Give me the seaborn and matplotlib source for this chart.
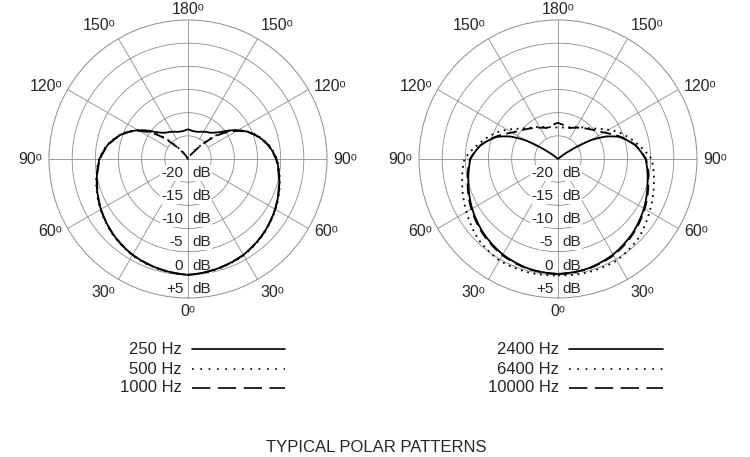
import numpy as np
import pandas as pd
import seaborn as sns
import matplotlib.pyplot as plt
from matplotlib.lines import Line2D

# ====== Data (dB relative to on-axis, angle measured from front, 0..180) ======
ANGLES = [0, 15, 30, 45, 60, 75, 90, 100, 110, 115, 120, 125, 130, 135, 140, 150, 160, 170, 180]

LEFT_LABELS = ["250 Hz", "500 Hz", "1000 Hz"]
DB_250 = [0, -0.5, -1.1, -2.1, -3.3, -4.6, -5.9, -7.4, -9.6, -11.0, -12.6, -14.3, -16.0, -17.0, -17.6, -18.2, -18.8, -18.9, -18.6]
DB_500 = [0, -0.4, -1.0, -2.0, -3.2, -4.5, -5.8, -7.3, -9.5, -10.9, -12.6, -14.6, -17.0, -20.0, -22.3, -24.6, -25, -25, -25]
DB_1000 = [0, -0.5, -1.1, -2.1, -3.3, -4.7, -6.0, -7.5, -9.7, -11.1, -12.9, -15.0, -17.5, -20.5, -22.8, -25, -25, -25, -25]

RIGHT_LABELS = ["2400 Hz", "6400 Hz", "10000 Hz"]
DB_2400 = [-0.2, -0.5, -1.2, -2.3, -3.6, -5.0, -6.1, -8.0, -11.0, -13.5, -17.0, -22.0, -24.5, -25, -25, -25, -25, -25, -25]
DB_6400 = [0.1, 0.3, 0.3, -0.6, -2.2, -3.6, -4.8, -7.4, -9.8, -11.0, -12.4, -13.7, -14.8, -15.6, -16.2, -17.0, -17.7, -18.1, -18.2]
DB_10000 = [-0.2, -0.4, -1.0, -2.1, -3.4, -4.8, -6.0, -8.0, -10.8, -12.3, -13.6, -14.5, -15.2, -15.8, -16.3, -17.2, -17.9, -17.6, -17.2]

RINGS = [-20, -15, -10, -5, 0, 5]
RING_LABELS = ["-20", "-15", "-10", "-5", "0", "+5"]
R_MIN, R_MAX = -25, 5

GRID = "#8c8c8c"
STYLES = ["-", (0, (1, 2.6)), (0, (6, 3))]
LEGEND_STYLES = ["-", (0, (1, 4)), (0, (11, 4.5))]

sns.set_theme(style="white")
plt.rcParams["font.family"] = ["Liberation Sans", "DejaVu Sans"]


def full_circle(values):
    # the patterns are symmetric: mirror the 0..180 half onto 180..360
    theta = list(np.radians(ANGLES)) + list(np.radians([360 - a for a in ANGLES[::-1]]))
    db = list(values) + list(values[::-1])
    return pd.DataFrame({"theta": theta, "db": db})


def draw_pattern(ax, series):
    ax.set_theta_zero_location("S")
    ax.set_xticks([])
    ax.set_yticks([])
    ax.grid(False)
    ax.spines["polar"].set_color(GRID)
    ax.spines["polar"].set_linewidth(0.7)

    # rings and spokes
    circ = np.linspace(0, 2 * np.pi, 361)
    for r in RINGS[:-1]:
        ax.plot(circ, [r] * len(circ), color=GRID, lw=0.6, zorder=1)
    for a in range(0, 360, 30):
        r0 = R_MIN if a % 90 == 0 else RINGS[0]
        ax.plot([np.radians(a)] * 2, [r0, R_MAX], color=GRID, lw=0.6, zorder=1)

    n_before = len(ax.lines)
    for values, ls in zip(series, STYLES):
        sns.lineplot(data=full_circle(values), x="theta", y="db", ax=ax, sort=False,
                     estimator=None, color="black", lw=1.3, linestyle=ls, zorder=3)
    # let the polar transform bend the segments into arcs
    for line in ax.lines[n_before:]:
        line.get_path()._interpolation_steps = 40
    ax.set_xlabel("")
    ax.set_ylabel("")
    ax.set_rlim(R_MIN, R_MAX)

    # dB labels along the 0 deg axis
    for r, lab in zip(RINGS, RING_LABELS):
        box = dict(fc="white", ec="none", pad=0.6)
        ax.annotate(lab, xy=(0, r - 2), xytext=(-3.5, 0), textcoords="offset points",
                    ha="right", va="center", fontsize=11, bbox=box, zorder=2)
        ax.annotate("dB", xy=(0, r - 2), xytext=(3, 0), textcoords="offset points",
                    ha="left", va="center", fontsize=11, bbox=box, zorder=2)

    # angle labels, same numbers on both sides
    for a in range(0, 181, 30):
        va = "top" if a < 60 else ("center" if a < 150 else "bottom")
        r_lab = R_MAX + (0.6 if a == 180 else 1.4)
        for sign in ([1] if a in (0, 180) else [1, -1]):
            ha = "center" if a in (0, 180) else ("left" if sign > 0 else "right")
            ax.text(sign * np.radians(a), r_lab, f"{a}\u1d52", ha=ha, va=va,
                    fontsize=11.5, clip_on=False)


fig = plt.figure(figsize=(7.5, 4.57), dpi=100)
ax_l = fig.add_axes([49 / 750, 1 - 298 / 457, 278 / 750, 278 / 457], projection="polar")
ax_r = fig.add_axes([419 / 750, 1 - 298 / 457, 278 / 750, 278 / 457], projection="polar")

draw_pattern(ax_l, [DB_250, DB_500, DB_1000])
draw_pattern(ax_r, [DB_2400, DB_6400, DB_10000])

# hand-made legends: label text on the left, line sample on the right
rows_y = [1 - 349 / 457, 1 - 369 / 457, 1 - 388 / 457]
for labels, x_text, x0, x1 in [(LEFT_LABELS, 182, 192, 285), (RIGHT_LABELS, 559, 569, 663)]:
    for lab, y, ls in zip(labels, rows_y, LEGEND_STYLES):
        fig.text(x_text / 750, y, lab, ha="right", va="center", fontsize=12)
        fig.add_artist(Line2D([x0 / 750, x1 / 750], [y, y], transform=fig.transFigure,
                              color="black", lw=1.2, linestyle=ls))

fig.text(376 / 750, 1 - 448 / 457, "TYPICAL POLAR PATTERNS", ha="center", va="center", fontsize=12)

fig.savefig("out.png", dpi=100, facecolor="white")
